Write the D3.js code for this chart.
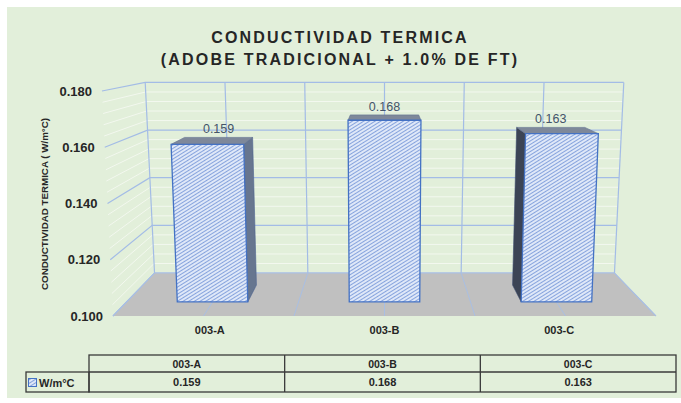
<!DOCTYPE html>
<html>
<head>
<meta charset="utf-8">
<script src="https://cdn.jsdelivr.net/npm/d3@7"></script>
<style>
  html, body { margin: 0; padding: 0; background: #ffffff; }
  svg { display: block; }
  text { font-family: "Liberation Sans", Arial, sans-serif; }
</style>
</head>
<body>
<svg id="chart" width="681" height="403"></svg>
<script>
// ---- data ----
const categories = ["003-A", "003-B", "003-C"];
const values = [0.159, 0.168, 0.163];
const yTicks = [0.100, 0.120, 0.140, 0.160, 0.180];
const seriesName = "W/m°C";
const titleLines = ["CONDUCTIVIDAD TERMICA", "(ADOBE TRADICIONAL + 1.0% DE FT)"];
const yAxisTitle = "CONDUCTIVIDAD TERMICA ( W/m°C)";

const W = 681, H = 403;
const svg = d3.select("#chart");

// ---- colours ----
const C = {
  bg: "#e2efda",
  major: "#a3bce6",
  minor: "#f3f8ef",
  floor: "#c0c0c0",
  floorLine: "#a9bfe3",
  barEdge: "#4472c4",
  sideR: "#67768f",
  sideL: "#3c4455",
  top: "#7e889a",
  text: "#262626",
  label: "#44546a"
};

// ---- scales ----
const yScale = d3.scaleLinear().domain([0.1, 0.18]).range([0, 1]);
const xBand = d3.scaleBand().domain(categories).range([0, 1]);
const barFrac = 0.41;            // bar width as a share of its category band
const barDepth = [0.291, 0.684]; // bar front / back depth on the floor (0 = front, 1 = back wall)

// ---- perspective: front plane with slight keystone, depth shrinks toward a vanishing point ----
const VP = { x: 384.5, y: 35 };
const frontPlane = { y0: 316, y1: 91, xl0: 113, xl1: 102, xr0: 656, xr1: 667 };
const kDepth = 0.1806;
function P(u, t, z) {
  const fy = frontPlane.y0 + (frontPlane.y1 - frontPlane.y0) * t;
  const xl = frontPlane.xl0 + (frontPlane.xl1 - frontPlane.xl0) * t;
  const xr = frontPlane.xr0 + (frontPlane.xr1 - frontPlane.xr0) * t;
  const fx = xl + (xr - xl) * u;
  const s = 1 / (1 + kDepth * z);
  return [VP.x + (fx - VP.x) * s, VP.y + (fy - VP.y) * s];
}
const line = d3.line();

// ---- defs: fine diagonal hatch for the columns ----
const defs = svg.append("defs");
const pat = defs.append("pattern")
  .attr("id", "hatch").attr("patternUnits", "userSpaceOnUse")
  .attr("width", 3).attr("height", 3)
  .attr("patternTransform", "rotate(-32)");
pat.append("rect").attr("width", 3).attr("height", 3).attr("fill", "#e4ecfa");
pat.append("line").attr("x1", 0).attr("y1", 1.5).attr("x2", 3).attr("y2", 1.5)
  .attr("stroke", "#86a3dd").attr("stroke-width", 1.1);

// ---- chart area background ----
svg.append("rect").attr("x", 7).attr("y", 7).attr("width", W - 7).attr("height", 391)
  .attr("fill", C.bg);

// ---- title ----
svg.append("g").selectAll("text").data(titleLines).join("text")
  .attr("x", 340).attr("y", (d, i) => 43 + i * 21.5)
  .attr("text-anchor", "middle")
  .attr("font-size", 16).attr("font-weight", "bold")
  .attr("letter-spacing", 2.2)
  .attr("fill", C.text)
  .text(d => d);

// ---- walls: gridlines ----
const grid = svg.append("g");
const minorVals = d3.range(0, 21).filter(i => i % 5 !== 0).map(i => 0.1 + i * 0.004);
// minor horizontals (side wall + back wall)
minorVals.forEach(v => {
  const t = yScale(v);
  grid.append("path").attr("d", line([P(0, t, 0), P(0, t, 1), P(1, t, 1)]))
    .attr("fill", "none").attr("stroke", C.minor).attr("stroke-width", 1);
});
// major horizontals
yTicks.forEach(v => {
  const t = yScale(v);
  grid.append("path").attr("d", line([P(0, t, 0), P(0, t, 1), P(1, t, 1)]))
    .attr("fill", "none").attr("stroke", C.major).attr("stroke-width", 1.2);
});
// back wall verticals at category edges and centres
const uLines = d3.range(0, 7).map(i => i / 6);
uLines.forEach(u => {
  grid.append("path").attr("d", line([P(u, 0, 1), P(u, 1, 1)]))
    .attr("fill", "none").attr("stroke", C.major).attr("stroke-width", 1.2);
});

// ---- floor ----
svg.append("path")
  .attr("d", line([P(0, 0, 0), P(1, 0, 0), P(1, 0, 1), P(0, 0, 1)]) + "Z")
  .attr("fill", C.floor);
uLines.forEach(u => {
  svg.append("path").attr("d", line([P(u, 0, 0), P(u, 0, 1)]))
    .attr("fill", "none").attr("stroke", C.floorLine).attr("stroke-width", 1);
});
svg.append("path").attr("d", line([P(0, 0, 0), P(0, 0, 1), P(1, 0, 1), P(1, 0, 0)]))
  .attr("fill", "none").attr("stroke", C.floorLine).attr("stroke-width", 1.1);

// ---- y axis labels ----
svg.append("g").selectAll("text").data(yTicks).join("text")
  .attr("x", d => P(0, yScale(d), 0)[0] - 10)
  .attr("y", d => P(0, yScale(d), 0)[1] + 4.5)
  .attr("text-anchor", "end")
  .attr("font-size", 13).attr("font-weight", "bold")
  .attr("fill", C.text)
  .text(d => d.toFixed(3));

// y axis title
svg.append("text")
  .attr("transform", "translate(48,204) rotate(-90)")
  .attr("text-anchor", "middle")
  .attr("font-size", 9.5).attr("font-weight", "bold")
  .attr("textLength", 172).attr("lengthAdjust", "spacingAndGlyphs")
  .attr("fill", C.text)
  .text(yAxisTitle);

// ---- columns ----
const bars = svg.append("g");
categories.forEach((c, i) => {
  const v = values[i];
  const t = yScale(v);
  const mid = xBand(c) + xBand.bandwidth() / 2;
  const u0 = mid - xBand.bandwidth() * barFrac / 2;
  const u1 = mid + xBand.bandwidth() * barFrac / 2;
  const [zf, zb] = barDepth;
  const g = bars.append("g");
  // side face (whichever side faces the viewer)
  const fl = P(u0, 0, zf)[0], fr = P(u1, 0, zf)[0];
  if (fr < VP.x - 20) {
    g.append("path").attr("d", line([P(u1, 0, zf), P(u1, 0, zb), P(u1, t, zb), P(u1, t, zf)]) + "Z")
      .attr("fill", C.sideR).attr("stroke", "#4d6390").attr("stroke-width", 0.6);
  } else if (fl > VP.x + 20) {
    g.append("path").attr("d", line([P(u0, 0, zf), P(u0, 0, zb), P(u0, t, zb), P(u0, t, zf)]) + "Z")
      .attr("fill", C.sideL).attr("stroke", "#3b4a6c").attr("stroke-width", 0.6);
  }
  // top face
  g.append("path").attr("d", line([P(u0, t, zf), P(u1, t, zf), P(u1, t, zb), P(u0, t, zb)]) + "Z")
    .attr("fill", C.top).attr("stroke", "#5f6f90").attr("stroke-width", 0.6);
  // front face
  g.append("path").attr("d", line([P(u0, 0, zf), P(u1, 0, zf), P(u1, t, zf), P(u0, t, zf)]) + "Z")
    .attr("fill", "url(#hatch)").attr("stroke", C.barEdge).attr("stroke-width", 1.3);
  // value label
  const tp = P(mid, t, zb);
  g.append("text")
    .attr("x", tp[0]).attr("y", tp[1] - 4)
    .attr("text-anchor", "middle")
    .attr("font-size", 12.5)
    .attr("fill", C.label)
    .text(v.toFixed(3));
});

// ---- category labels ----
svg.append("g").selectAll("text").data(categories).join("text")
  .attr("x", d => P(xBand(d) + xBand.bandwidth() / 2, 0, 0.2)[0])
  .attr("y", 334)
  .attr("text-anchor", "middle")
  .attr("font-size", 11).attr("font-weight", "bold")
  .attr("fill", C.text)
  .text(d => d);

// ---- data table ----
const tX = d3.scaleBand().domain(categories).range([89, 676]);
const rowTop = 355, rowMid = 372, rowBot = 392, legendLeft = 26;
const tbl = svg.append("g").attr("fill", "none").attr("stroke", "#3a3a3a").attr("stroke-width", 1.3);
tbl.append("rect").attr("x", 89).attr("y", rowTop).attr("width", 676 - 89).attr("height", rowBot - rowTop);
tbl.append("rect").attr("x", legendLeft).attr("y", rowMid).attr("width", 89 - legendLeft).attr("height", rowBot - rowMid);
tbl.append("line").attr("x1", 89).attr("x2", 676).attr("y1", rowMid).attr("y2", rowMid);
categories.slice(1).forEach(c => {
  tbl.append("line").attr("x1", tX(c)).attr("x2", tX(c)).attr("y1", rowTop).attr("y2", rowBot);
});
svg.append("g").selectAll("text").data(categories).join("text")
  .attr("x", d => tX(d) + tX.bandwidth() / 2).attr("y", rowTop + 12.5)
  .attr("text-anchor", "middle").attr("font-size", 10.5).attr("font-weight", "bold")
  .attr("fill", C.text).text(d => d);
svg.append("g").selectAll("text").data(values).join("text")
  .attr("x", (d, i) => tX(categories[i]) + tX.bandwidth() / 2).attr("y", rowMid + 14)
  .attr("text-anchor", "middle").attr("font-size", 11).attr("font-weight", "bold")
  .attr("fill", C.text).text(d => d.toFixed(3));
// legend key
svg.append("rect").attr("x", 28.5).attr("y", 378.5).attr("width", 8).attr("height", 8)
  .attr("fill", "url(#hatch)").attr("stroke", C.barEdge).attr("stroke-width", 1);
svg.append("text").attr("x", 39).attr("y", 386.5)
  .attr("font-size", 11).attr("font-weight", "bold").attr("fill", C.text)
  .text(seriesName);
</script>
</body>
</html>
